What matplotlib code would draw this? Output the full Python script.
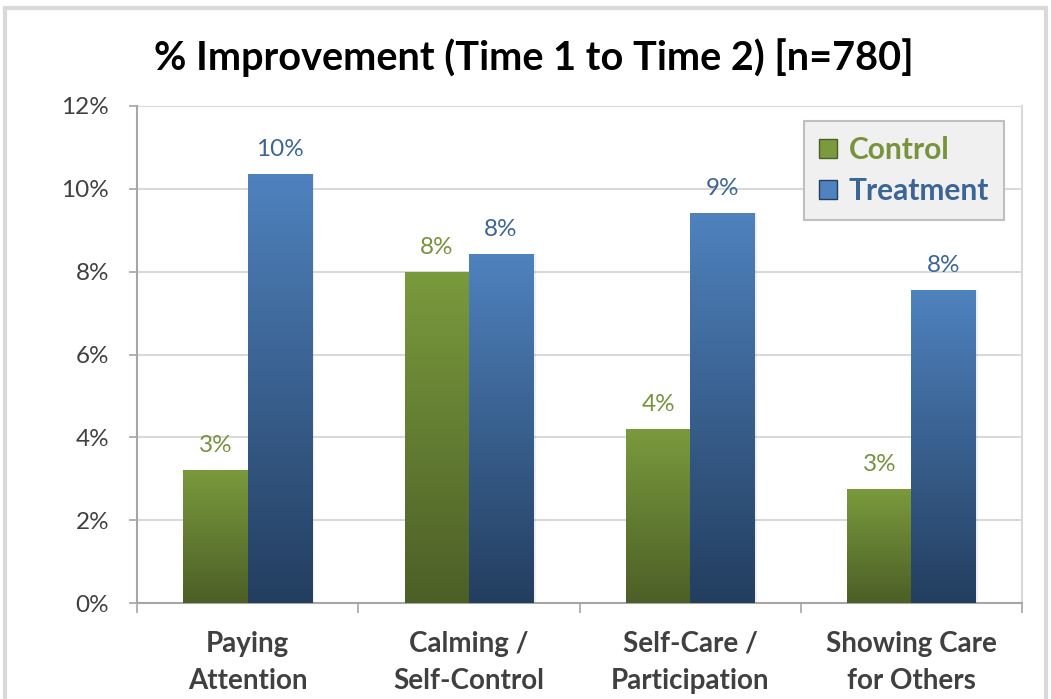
import numpy as np
import matplotlib
matplotlib.use("Agg")
import matplotlib.pyplot as plt
from matplotlib.patches import Rectangle, Patch
from matplotlib.colors import LinearSegmentedColormap

categories = ["Paying\nAttention", "Calming /\nSelf-Control", "Self-Care /\nParticipation", "Showing Care\nfor Others"]
control = [3.22, 8.0, 4.2, 2.75]
treatment = [10.36, 8.43, 9.42, 7.56]
control_labels = ["3%", "8%", "4%", "3%"]
treatment_labels = ["10%", "8%", "9%", "8%"]
yticks = [0, 2, 4, 6, 8, 10, 12]
ytick_labels = ["0%", "2%", "4%", "6%", "8%", "10%", "12%"]
title = "% Improvement (Time 1 to Time 2) [n=780]"

FONT = "Lato"
plt.rcParams['font.family'] = [FONT, 'DejaVu Sans']

green_top, green_bot = "#7a9a3d", "#4c5f27"
blue_top, blue_bot = "#4f82be", "#233e5f"
green_txt, blue_txt = "#77933c", "#3b6597"
axis_txt = "#404040"

fig = plt.figure(figsize=(10.51, 6.99), dpi=100)
ax = fig.add_axes([137/1051, 1-603/699, (1022-137)/1051, (603-106)/699])

x = np.arange(len(categories))
w = 0.29
b1 = ax.bar(x - w/2, control, w, color=green_top, zorder=3)
b2 = ax.bar(x + w/2, treatment, w, color=blue_top, zorder=3)

def gradient(bars, top, bot):
    cmap = LinearSegmentedColormap.from_list("g", [bot, top])
    grad = np.linspace(0, 1, 256).reshape(-1, 1)
    for bar in bars:
        x0, y0 = bar.get_x(), bar.get_y()
        bw, bh = bar.get_width(), bar.get_height()
        sh = Rectangle((x0 + bw, y0), 0.012, bh, color="#000000", alpha=0.06, zorder=2, lw=0)
        ax.add_patch(sh)
        im = ax.imshow(grad, extent=[x0, x0 + bw, y0, y0 + bh], origin="lower",
                       cmap=cmap, aspect="auto", zorder=4, interpolation="bicubic")
        im.set_clip_path(bar)

gradient(b1, green_top, green_bot)
gradient(b2, blue_top, blue_bot)

for i in range(len(categories)):
    ax.annotate(control_labels[i], (x[i] - w/2, control[i]), xytext=(0, 10), textcoords="offset points",
                ha="center", va="bottom", color=green_txt, fontsize=17.5)
    ax.annotate(treatment_labels[i], (x[i] + w/2, treatment[i]), xytext=(0, 10), textcoords="offset points",
                ha="center", va="bottom", color=blue_txt, fontsize=17.5)

ax.set_xlim(-0.5, len(categories) - 0.5)
ax.set_ylim(0, 12)
ax.set_yticks(yticks)
ax.set_yticklabels(ytick_labels, fontsize=17.5, color=axis_txt)
ax.yaxis.grid(True, color="#d9d9d9", lw=1.5, zorder=0)
ax.set_axisbelow(True)

ax.set_xticks(x)
ax.set_xticklabels(categories, fontsize=20, fontweight="bold", color=axis_txt, linespacing=1.55)
ax.set_xticks(np.arange(-0.5, len(categories)), minor=True)
ax.tick_params(axis="x", which="major", length=0, pad=20)
ax.tick_params(axis="x", which="minor", length=7, color="#a6a6a6", width=1.2)
ax.tick_params(axis="y", length=6, color="#a6a6a6", width=1.2, pad=14)

ax.spines["top"].set_visible(False)
ax.spines["right"].set_color("#d9d9d9")
ax.spines["right"].set_linewidth(1.5)
for s in ["left", "bottom"]:
    ax.spines[s].set_color("#a6a6a6")
    ax.spines[s].set_linewidth(1.5)

fig.text(534/1051, 1-58/699, title, ha="center", va="center", fontsize=28.5, fontweight="bold", color="black")

handles = [Patch(facecolor=green_top, edgecolor=green_bot), Patch(facecolor=blue_top, edgecolor=blue_bot)]
leg = ax.legend(handles, ["Control", "Treatment"], loc="upper right", bbox_to_anchor=(1004/1051, 1-121/699),
                bbox_transform=fig.transFigure, fontsize=21.5, frameon=True, fancybox=False,
                handlelength=0.6, handleheight=0.6, handletextpad=0.4, borderpad=0.5, labelspacing=0.45,
                borderaxespad=0, shadow=False)
leg.get_frame().set_facecolor("#f0f0f0")
leg.get_frame().set_edgecolor("#bfbfbf")
leg.get_frame().set_linewidth(1.5)
leg.get_frame().set_alpha(1)
for t, c in zip(leg.get_texts(), [green_txt, blue_txt]):
    t.set_color(c)
    t.set_fontweight("bold")

fig.patches.append(Rectangle((5/1051, -0.02), 1041/1051, 1.02 - 8/699, transform=fig.transFigure,
                             fill=False, edgecolor="#d9d9d9", lw=3, zorder=0))

fig.savefig("out.png", dpi=100)
